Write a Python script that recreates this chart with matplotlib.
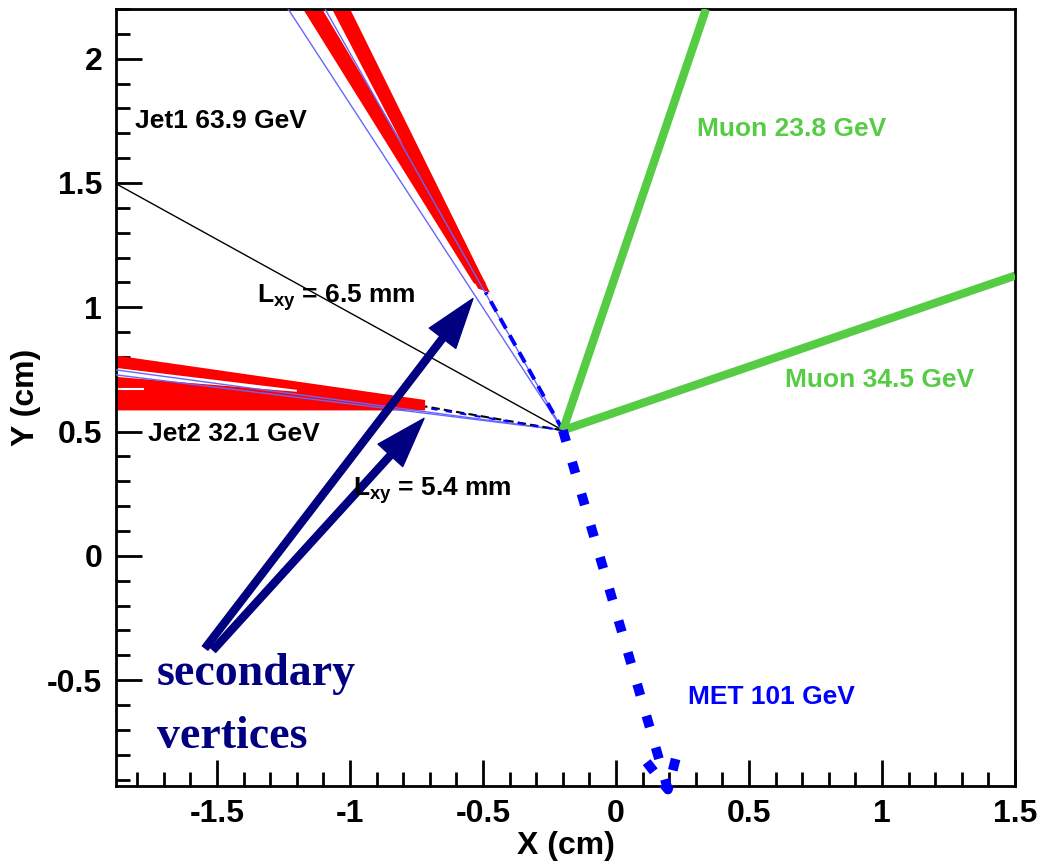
import matplotlib
matplotlib.use("Agg")
import matplotlib.pyplot as plt
from matplotlib.ticker import MultipleLocator

# ------------------- Event data (cm) -------------------
pv_x, pv_y = -0.2, 0.505

muon_end_x = [0.338, 1.5]
muon_end_y = [2.2, 1.127]

met_x = [pv_x, 0.195]
met_y = [pv_y, -0.94]
met_head_x = [0.115, 0.195, 0.228]
met_head_y = [-0.83, -0.94, -0.80]

jet1_sv = (-0.49, 1.06)
# two tapered red bands (outline: top-left, top-right, bottom-right, bottom-left)
jet1_band1_x = [-1.177, -1.105, -0.489, -0.534]
jet1_band1_y = [2.2, 2.2, 1.095, 1.095]
jet1_band2_x = [-1.068, -1.0, -0.474, -0.519]
jet1_band2_y = [2.2, 2.2, 1.059, 1.075]
jet1_cone_x = [-1.233, -1.094]      # thin blue lines, at y = 2.2

jet2_sv = (-0.718, 0.601)
jet2_wedge_x = [-1.88, -0.718, -0.718, -1.0, -1.88]
jet2_wedge_y = [0.806, 0.627, 0.585, 0.585, 0.585]
jet2_gap_x = [-1.88, -1.88, -1.2, -1.2]
jet2_gap_y = [0.756, 0.720, 0.660, 0.668]
jet2_cone_y = [0.748, 0.728]          # thin blue lines, at x = -1.88

lxy_line = ([pv_x, -1.88], [pv_y, 1.497])

arrow_tails = [(-1.545, -0.371), (-1.515, -0.379)]
arrow_tips = [(-0.538, 1.035), (-0.722, 0.553)]

labels = [
    ("Jet1 63.9 GeV", -1.808, 1.75, "black"),
    ("Jet2 32.1 GeV", -1.759, 0.49, "black"),
    ("Muon 23.8 GeV", 0.305, 1.718, "#55cc44"),
    ("Muon 34.5 GeV", 0.635, 0.706, "#55cc44"),
    ("MET 101 GeV", 0.271, -0.569, "#0000ff"),
    (r"$L_{xy}$ = 6.5 mm", -1.35, 1.04, "black"),
    (r"$L_{xy}$ = 5.4 mm", -0.989, 0.264, "black"),
]

# ------------------- Style -------------------
plt.rcParams['font.family'] = ['Liberation Sans', 'DejaVu Sans']
plt.rcParams['font.weight'] = 'bold'
plt.rcParams['mathtext.fontset'] = 'custom'
plt.rcParams['mathtext.it'] = 'Liberation Sans:bold'
plt.rcParams['mathtext.rm'] = 'Liberation Sans:bold'
plt.rcParams['mathtext.bf'] = 'Liberation Sans:bold'

GREEN = "#55cc44"
BLUE = "#0000ff"
THIN_BLUE = "#6666ff"
NAVY = "#000080"

fig = plt.figure(figsize=(10.5, 8.63), dpi=100)
ax = fig.add_axes([0.1105, 0.0892, 0.8562, 0.9004])
ax.set_xlim(-1.88, 1.5)
ax.set_ylim(-0.926, 2.2)

# jet 2 (red wedge)
ax.fill(jet2_wedge_x, jet2_wedge_y, color="red", lw=0, zorder=2)
ax.fill(jet2_gap_x, jet2_gap_y, color="white", lw=0, zorder=2)
ax.plot([-1.88, -1.78], [0.673, 0.673], color="white", lw=1.5, zorder=2)
for yy in jet2_cone_y:
    ax.plot([pv_x, -1.88], [pv_y, yy], color=THIN_BLUE, lw=1.0, zorder=3)
ax.plot([pv_x, jet2_sv[0]], [pv_y, jet2_sv[1]], color="black", lw=1.5,
        ls=(0, (4, 2)), zorder=4)
ax.plot([pv_x, jet2_sv[0]], [pv_y, jet2_sv[1] - 0.005], color=BLUE, lw=1.5,
        ls=(2, (3, 4)), zorder=4)

# jet 1 (red bands)
ax.fill(jet1_band1_x, jet1_band1_y, color="red", lw=0, zorder=2)
ax.fill(jet1_band2_x, jet1_band2_y, color="red", lw=0, zorder=2)
for xx in jet1_cone_x:
    ax.plot([pv_x, xx], [pv_y, 2.2], color=THIN_BLUE, lw=1.0, zorder=3)
ax.plot([pv_x, jet1_sv[0]], [pv_y, jet1_sv[1]], color=BLUE, lw=2.8,
        ls=(0, (3, 2)), zorder=4)

# Lxy line
ax.plot(*lxy_line, color="black", lw=1.0, zorder=3)

# muons
for mx, my in zip(muon_end_x, muon_end_y):
    ax.plot([pv_x, mx], [pv_y, my], color=GREEN, lw=6, solid_capstyle="butt", zorder=5)

# MET
ax.plot(met_x, met_y, color=BLUE, lw=7, ls=(0, (1.2, 2.2)), zorder=5, clip_on=False)
ax.plot(met_head_x, met_head_y, color=BLUE, lw=7, ls=(0, (1.2, 1.6)), zorder=5,
        clip_on=False)

# arrows to secondary vertices
for (tx, ty), (hx, hy) in zip(arrow_tails, arrow_tips):
    ax.annotate("", xy=(hx, hy), xytext=(tx, ty),
                arrowprops=dict(facecolor=NAVY, edgecolor=NAVY, width=5,
                                headwidth=24, headlength=36, shrink=0),
                zorder=6)

ax.text(-1.726, -0.52, "secondary", family="Liberation Serif", fontsize=33,
        fontweight="bold", color=NAVY, va="baseline", zorder=7)
ax.text(-1.726, -0.773, "vertices", family="Liberation Serif", fontsize=33,
        fontweight="bold", color=NAVY, va="baseline", zorder=7)

for txt, x, y, c in labels:
    ax.text(x, y, txt, fontsize=19, fontweight="bold", color=c, va="center",
            ha="left", zorder=7)

# axes in ROOT style
ax.xaxis.set_major_locator(MultipleLocator(0.5))
ax.xaxis.set_minor_locator(MultipleLocator(0.1))
ax.yaxis.set_major_locator(MultipleLocator(0.5))
ax.yaxis.set_minor_locator(MultipleLocator(0.1))
ax.tick_params(which="both", direction="in", top=False, right=False, width=2)
ax.tick_params(which="major", length=19, labelsize=23)
ax.tick_params(axis="x", which="major", pad=9)
ax.tick_params(axis="y", which="major", pad=10)
ax.tick_params(which="minor", length=10)
for s in ax.spines.values():
    s.set_linewidth(2)
ax.xaxis.set_major_formatter(plt.FuncFormatter(lambda v, p: f"{v:g}"))
ax.yaxis.set_major_formatter(plt.FuncFormatter(lambda v, p: f"{v:g}"))
for lab in ax.get_xticklabels() + ax.get_yticklabels():
    lab.set_fontweight("bold")
ax.set_xlabel("X (cm)", fontsize=23, fontweight="bold", labelpad=2)
ax.set_ylabel("Y (cm)", fontsize=23, fontweight="bold", labelpad=4)

fig.savefig("out.png", dpi=100)
